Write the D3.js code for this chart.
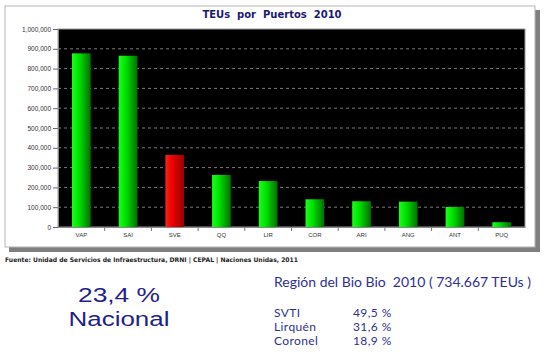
<!DOCTYPE html>
<html><head><meta charset="utf-8">
<script src="https://cdn.jsdelivr.net/npm/d3@7"></script>
<style>body{margin:0;background:#fff}svg{display:block}</style>
</head><body>
<svg id="c" width="554" height="357"></svg>
<script>
const categories = ["VAP","SAI","SVE","QQ","LIR","COR","ARI","ANG","ANT","PUQ"];
const values = [877000,865000,364000,263000,232000,140000,130000,128000,101000,24000];
const highlight = ["SVE"];
const yTicks = [0,100000,200000,300000,400000,500000,600000,700000,800000,900000,1000000];
const title = "TEUs  por  Puertos  2010";
const source = "Fuente: Unidad de Servicios de Infraestructura, DRNI | CEPAL | Naciones Unidas, 2011";
const regionTitle = "Región del Bio Bio  2010 ( 734.667 TEUs )";
const regionPorts = ["SVTI","Lirquén","Coronel"];
const regionShares = ["49,5 %","31,6 %","18,9 %"];
const national = ["23,4 %","Nacional"];

const svg = d3.select("#c");
const defs = svg.append("defs");
function grad(id, c0, c1, c2){
  const g = defs.append("linearGradient").attr("id",id).attr("x1","0").attr("x2","1").attr("y1","0").attr("y2","0");
  g.append("stop").attr("offset","0").attr("stop-color",c0);
  g.append("stop").attr("offset","0.35").attr("stop-color",c1);
  g.append("stop").attr("offset","1").attr("stop-color",c2);
}
grad("gG","#1aff1a","#00e600","#007000");
grad("gR","#ff2020","#ee0000","#990000");

// frame with shadow
svg.append("rect").attr("x",9).attr("y",10).attr("width",531).attr("height",242).attr("fill","#7f7f7f");
svg.append("rect").attr("x",5).attr("y",6).attr("width",530).attr("height",241).attr("fill","#fff").attr("stroke","#b5b5b5");

const m = {l:58, r:525, t:29, b:227};
const x = d3.scaleBand().domain(categories).range([m.l,m.r]).paddingInner(0.6).paddingOuter(0.3);
const xb = d3.scaleBand().domain(categories).range([m.l,m.r]);
const y = d3.scaleLinear().domain([0,1000000]).range([m.b,m.t]);

svg.append("rect").attr("x",m.l).attr("y",m.t).attr("width",m.r-m.l).attr("height",m.b-m.t).attr("fill","#000").attr("stroke","#999");

svg.append("g").selectAll("line").data(yTicks.filter(d=>d>0&&d<1000000)).join("line")
  .attr("x1",m.l).attr("x2",m.r).attr("y1",d=>y(d)).attr("y2",d=>y(d))
  .attr("stroke","#9a9a9a").attr("stroke-width",0.8).attr("stroke-dasharray","3,3");

svg.append("g").selectAll("rect").data(categories).join("rect")
  .attr("x",d=>x(d)).attr("width",x.bandwidth())
  .attr("y",(d,i)=>y(values[i])).attr("height",(d,i)=>m.b-y(values[i]))
  .attr("fill",d=>highlight.includes(d)?"url(#gR)":"url(#gG)");

// y axis
const ya = svg.append("g").attr("transform",`translate(${m.l},0)`)
  .call(d3.axisLeft(y).tickValues(yTicks).tickFormat(d3.format(",")).tickSize(5).tickPadding(2));
ya.select(".domain").attr("stroke","#888");
ya.selectAll(".tick line").attr("stroke","#666");
ya.selectAll("text").attr("font-family","Liberation Sans, Arial, sans-serif").attr("font-size",6.5).attr("fill","#333");

// x axis
const xa = svg.append("g").attr("transform",`translate(0,${m.b})`)
  .call(d3.axisBottom(x).tickSize(0).tickPadding(6));
xa.select(".domain").attr("stroke","#888");
xa.selectAll("text").attr("font-family","Liberation Sans, Arial, sans-serif").attr("font-size",6).attr("fill","#333");
svg.append("g").selectAll("line").data(categories.slice(1)).join("line")
  .attr("x1",d=>xb(d)).attr("x2",d=>xb(d)).attr("y1",m.b).attr("y2",m.b+4).attr("stroke","#777");

svg.append("text").attr("x",272).attr("y",18).attr("text-anchor","middle")
  .attr("font-family","DejaVu Sans, sans-serif").attr("font-weight","bold").attr("font-size",10)
  .attr("fill","#1a1a72").style("white-space","pre").attr("xml:space","preserve").text(title);

svg.append("text").attr("x",5).attr("y",262).attr("font-family","DejaVu Sans, sans-serif").attr("font-weight","bold")
  .attr("font-size",6.3).attr("fill","#222").attr("textLength",293).attr("lengthAdjust","spacingAndGlyphs").text(source);

svg.append("text").attr("x",119).attr("y",302).attr("text-anchor","middle").attr("font-family","Liberation Sans, Arial, sans-serif")
  .attr("font-size",20).attr("fill","#1f1f8c").attr("textLength",82).attr("lengthAdjust","spacingAndGlyphs").text(national[0]);
svg.append("text").attr("x",119).attr("y",326).attr("text-anchor","middle").attr("font-family","Liberation Sans, Arial, sans-serif")
  .attr("font-size",20).attr("fill","#1f1f8c").attr("textLength",101).attr("lengthAdjust","spacingAndGlyphs").text(national[1]);

svg.append("text").attr("x",274).attr("y",287).attr("font-family","Lato, Open Sans, sans-serif").attr("font-size",13)
  .attr("fill","#2e3192").style("white-space","pre").attr("xml:space","preserve")
  .attr("textLength",257).attr("lengthAdjust","spacingAndGlyphs").text(regionTitle);
regionPorts.forEach((p,i)=>{
  svg.append("text").attr("x",274).attr("y",317+i*14).attr("font-family","Lato, Open Sans, sans-serif").attr("font-size",12).attr("letter-spacing",0.4).attr("fill","#2e3192").text(p);
  svg.append("text").attr("x",353).attr("y",317+i*14).attr("font-family","Lato, Open Sans, sans-serif").attr("font-size",12).attr("letter-spacing",0.4).attr("fill","#2e3192").text(regionShares[i]);
});
</script>
</body></html>
